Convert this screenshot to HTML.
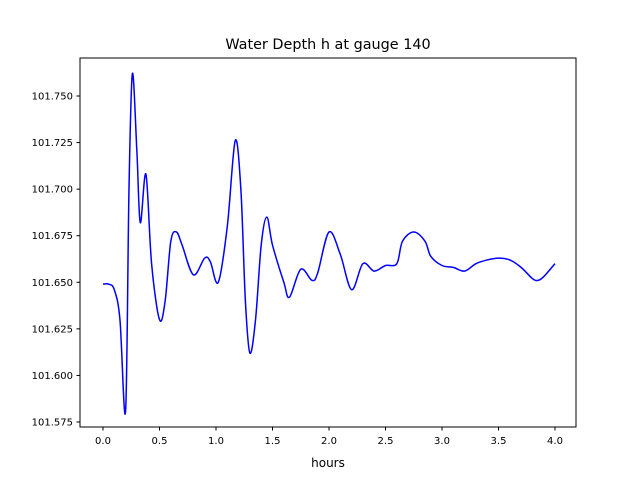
<!DOCTYPE html>
<html><head><meta charset="utf-8"><style>
body{margin:0;background:#fff;font-family:"Liberation Sans","DejaVu Sans",sans-serif}
svg text{font-family:"DejaVu Sans","Liberation Sans",sans-serif}
</style></head><body>
<svg id="chart" width="640" height="480" xmlns="http://www.w3.org/2000/svg">
<rect width="640" height="480" fill="#fff"/>
<text x="328" y="49" font-size="14.4" text-anchor="middle" fill="#000">Water Depth h at gauge 140</text>
<g id="axes"></g>
<text x="328" y="467" font-size="12" text-anchor="middle" fill="#000">hours</text>
</svg>
<script>
const times=[0,0.05,0.1,0.15,0.2,0.23,0.26,0.3,0.33,0.38,0.43,0.5,0.55,0.6,0.65,0.7,0.8,0.9,0.95,1.02,1.1,1.17,1.22,1.26,1.3,1.35,1.4,1.45,1.5,1.6,1.65,1.75,1.85,1.9,2.0,2.1,2.2,2.3,2.4,2.5,2.6,2.65,2.75,2.85,2.9,3.0,3.1,3.2,3.3,3.4,3.5,3.6,3.7,3.8,3.85,3.9,4.0];
const depths=[101.649,101.649,101.646,101.63,101.581,101.70,101.762,101.72,101.682,101.708,101.66,101.63,101.64,101.672,101.677,101.67,101.654,101.663,101.661,101.65,101.68,101.726,101.70,101.64,101.612,101.63,101.67,101.685,101.67,101.65,101.642,101.657,101.651,101.655,101.677,101.665,101.646,101.66,101.656,101.659,101.66,101.672,101.677,101.672,101.664,101.659,101.658,101.656,101.66,101.662,101.663,101.662,101.658,101.652,101.651,101.653,101.66];
const xTicks=[0,0.5,1,1.5,2,2.5,3,3.5,4];
const yTicks=[101.575,101.6,101.625,101.65,101.675,101.7,101.725,101.75];
const L=80,R=576,T=58,B=427;
const xs=t=>103+t*113;
const ys=v=>96+(101.75-v)/0.025*46.57;
const NS="http://www.w3.org/2000/svg";
const g=document.getElementById('axes');
function mk(tag,attrs){const e=document.createElementNS(NS,tag);for(const k in attrs)e.setAttribute(k,attrs[k]);g.appendChild(e);return e;}
// series
let pts=times.map((t,i)=>[xs(t),ys(depths[i])]);
let d="M"+pts[0][0]+","+pts[0][1];
for(let i=0;i<pts.length-1;i++){
 const p0=pts[Math.max(0,i-1)],p1=pts[i],p2=pts[i+1],p3=pts[Math.min(pts.length-1,i+2)];
 const c1=[p1[0]+(p2[0]-p0[0])/6,p1[1]+(p2[1]-p0[1])/6];
 const c2=[p2[0]-(p3[0]-p1[0])/6,p2[1]-(p3[1]-p1[1])/6];
 d+=` C${c1[0]},${c1[1]} ${c2[0]},${c2[1]} ${p2[0]},${p2[1]}`;
}
const line=mk('path',{d:d,fill:'none',stroke:'#0000ff','stroke-width':1.5});


const frame=mk('rect',{x:L,y:T,width:R-L,height:B-T,fill:'none',stroke:'#000','stroke-width':1});


xTicks.forEach(t=>{
 const x=xs(t);
 const tk=mk('line',{x1:x,x2:x,y1:B,y2:B+3.5,stroke:'#000'});
 
 
 const tx=mk('text',{x:x,y:B+17,'font-size':10,'text-anchor':'middle',fill:'#000'});
 tx.textContent=t.toFixed(1);
 
 
});
yTicks.forEach(v=>{
 const y=ys(v);
 const tk=mk('line',{x1:L-3.5,x2:L,y1:y,y2:y,stroke:'#000'});
 
 
 const tx=mk('text',{x:L-7,y:y+3.5,'font-size':10,'text-anchor':'end',fill:'#000'});
 tx.textContent=v.toFixed(3);
 
 
});
</script>
</body></html>
